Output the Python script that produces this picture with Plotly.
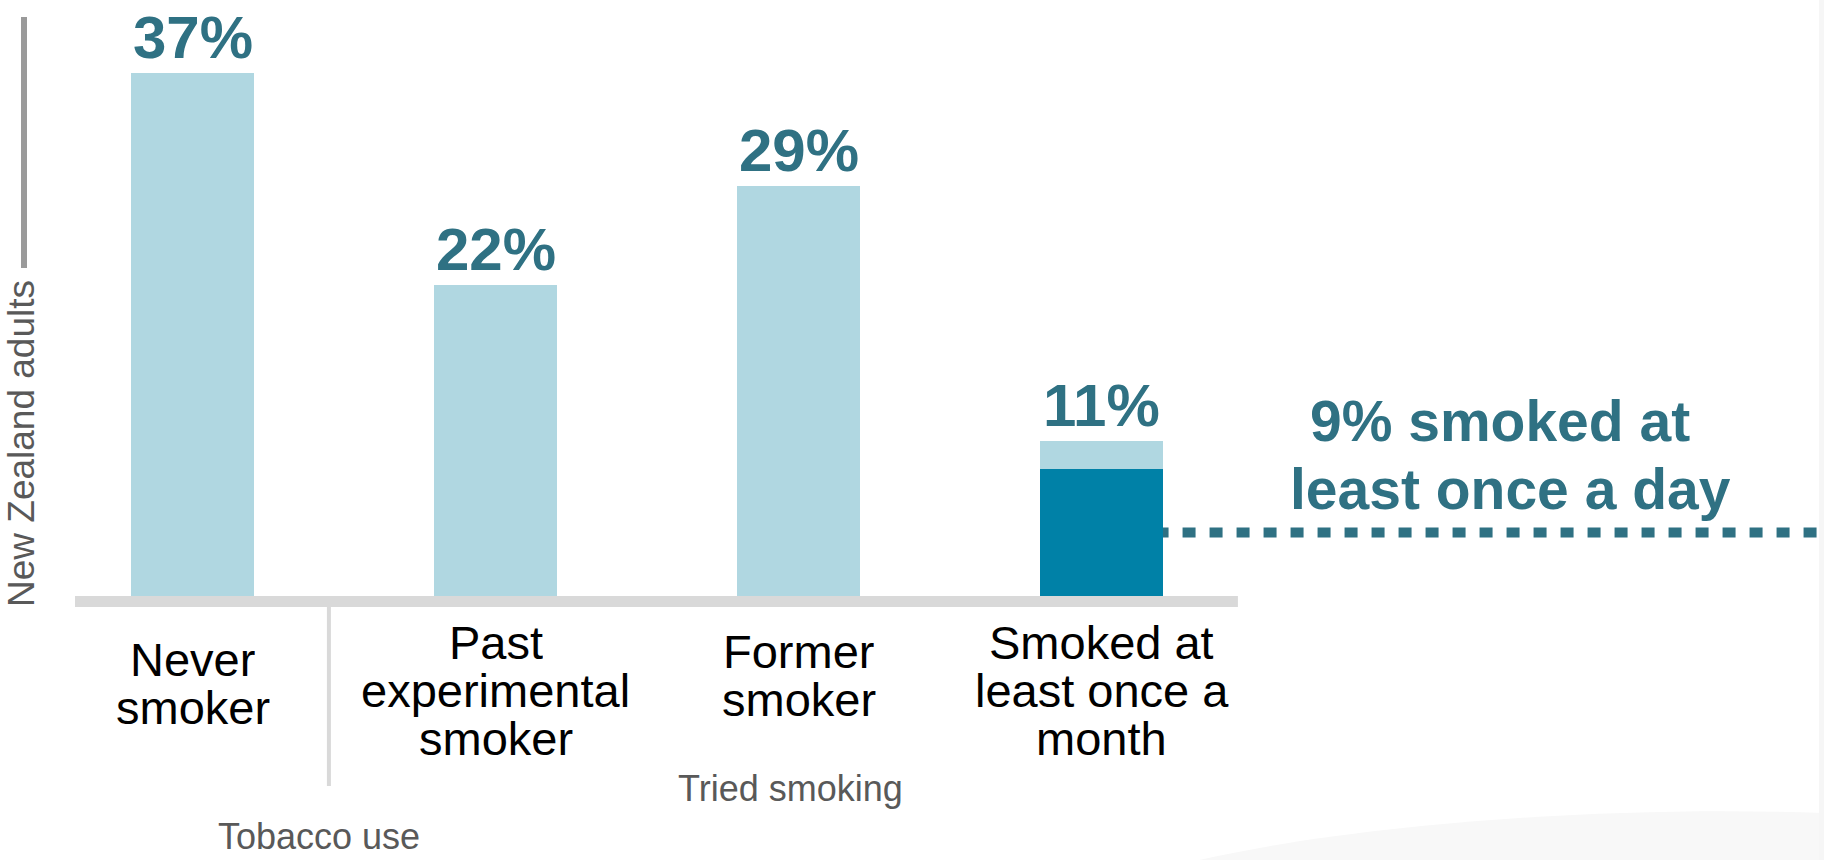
import plotly.graph_objects as go

# Share of New Zealand adults by tobacco use
label_lines = [
    ["Never", "smoker"],
    ["Past", "experimental", "smoker"],
    ["Former", "smoker"],
    ["Smoked at", "least once a", "month"],
]
categories = [" ".join(lines) for lines in label_lines]
total_pct = [37, 22, 29, 11]
daily_pct = [None, None, None, 9]
daily_note_lines = ["9% smoked at", "least once a day"]

W, H = 1824, 860
M_L, M_R, M_T, M_B = 75, 0, 0, 264
PLOT_W = W - M_L - M_R
PLOT_H = H - M_T - M_B

LIGHT = "#b0d7e1"
DARK = "#0081a7"
TEAL = "#2f7183"
GREY_TXT = "#595959"
FONT = "Liberation Sans, Arial, sans-serif"

BAR_W = 0.406
X_RANGE = [-0.388, -0.388 + PLOT_W / 303.0]
Y_RANGE = [0, 42.16]


def paper_x(px):
    return (px - M_L) / PLOT_W


def paper_y(px):
    return (M_T + PLOT_H - px) / PLOT_H


def bottom_for_baseline(baseline_px, size):
    # annotation box bottom sits below the baseline by the font descent + pad
    return paper_y(baseline_px + 0.212 * size + 1)


fig = go.Figure()
fig.add_trace(go.Bar(x=categories, y=total_pct, width=BAR_W,
                     marker=dict(color=LIGHT, line=dict(width=0)),
                     hoverinfo="x+y", showlegend=False))
fig.add_trace(go.Bar(x=categories, y=daily_pct, width=BAR_W,
                     marker=dict(color=DARK, line=dict(width=0)),
                     hoverinfo="x+y", showlegend=False))

annotations = []

# value labels above the bars
for cat, v in zip(categories, total_pct):
    annotations.append(dict(x=cat, y=v, xref="x", yref="y", yanchor="bottom",
                            xanchor="center", showarrow=False, yshift=0,
                            text=f"<b>{v}%</b>",
                            font=dict(family=FONT, size=60, color=TEAL)))

# category labels, one line at a time (tight leading)
first_baselines = [677, 660, 669, 660]
LINE_GAP = 48
CAT_SIZE = 47
for cat, lines, b0 in zip(categories, label_lines, first_baselines):
    for i, line in enumerate(lines):
        annotations.append(dict(x=cat, xref="x", yref="paper",
                                y=bottom_for_baseline(b0 + i * LINE_GAP, CAT_SIZE),
                                yanchor="bottom", xanchor="center",
                                height=LINE_GAP - 1, valign="bottom",
                                showarrow=False, text=line,
                                font=dict(family=FONT, size=CAT_SIZE, color="#000000")))

# group labels
annotations.append(dict(x=paper_x(790), xref="paper", yref="paper",
                        y=bottom_for_baseline(802, 36), yanchor="bottom",
                        xanchor="center", showarrow=False, text="Tried smoking",
                        font=dict(family=FONT, size=36, color=GREY_TXT)))
annotations.append(dict(x=paper_x(319), xref="paper", yref="paper",
                        y=bottom_for_baseline(850, 36), yanchor="bottom",
                        xanchor="center", showarrow=False, text="Tobacco use",
                        font=dict(family=FONT, size=36, color=GREY_TXT)))

# vertical axis title
annotations.append(dict(x=paper_x(22), y=paper_y(444), xref="paper", yref="paper",
                        xanchor="center", yanchor="middle", textangle=-90,
                        showarrow=False, text="New Zealand adults",
                        font=dict(family=FONT, size=37, color=GREY_TXT)))

# callout for daily smokers
NOTE_SIZE = 57
note_baselines = [442, 510]
note_centers = [1500, 1510]
for line, b, cx in zip(daily_note_lines, note_baselines, note_centers):
    annotations.append(dict(x=paper_x(cx), xref="paper", yref="paper",
                            y=bottom_for_baseline(b, NOTE_SIZE),
                            yanchor="bottom", xanchor="center",
                            height=62, valign="bottom", showarrow=False,
                            text=f"<b>{line}</b>",
                            font=dict(family=FONT, size=NOTE_SIZE, color=TEAL)))

shapes = [
    # faint backdrop curve in the lower-right corner
    dict(type="path", xref="paper", yref="paper", layer="below",
         path=(f"M {paper_x(1195)},{paper_y(861)} "
               f"C {paper_x(1350)},{paper_y(825)} {paper_x(1600)},{paper_y(805)} "
               f"{paper_x(1825)},{paper_y(813)} "
               f"L {paper_x(1825)},{paper_y(861)} Z"),
         fillcolor="#f8f8f8", line=dict(width=0)),
    dict(type="rect", xref="paper", yref="paper", layer="below",
         x0=paper_x(1819), x1=paper_x(1825), y0=paper_y(0), y1=paper_y(861),
         fillcolor="#f6f6f6", line=dict(width=0)),
    # baseline band
    dict(type="rect", xref="x", yref="paper", layer="above",
         x0=X_RANGE[0], x1=3.45, y0=paper_y(596), y1=paper_y(607),
         fillcolor="#d9d9d9", line=dict(width=0)),
    # divider between never and tried smoking
    dict(type="line", xref="x", yref="paper", x0=0.45, x1=0.45,
         y0=paper_y(607), y1=paper_y(786),
         line=dict(color="#d9d9d9", width=4)),
    # vertical rule for the axis title
    dict(type="line", xref="paper", yref="paper",
         x0=paper_x(24), x1=paper_x(24), y0=paper_y(17), y1=paper_y(268),
         line=dict(color="#9a9a9a", width=6)),
    # dotted leader from the daily segment to the callout
    dict(type="line", xref="x", yref="y", layer="below",
         x0=3, x1=X_RANGE[1],
         y0=daily_pct[3] / 2, y1=daily_pct[3] / 2,
         line=dict(color=TEAL, width=10, dash="13px,14px")),
]

fig.update_layout(
    width=W, height=H,
    margin=dict(l=M_L, r=M_R, t=M_T, b=M_B, pad=0),
    paper_bgcolor="white", plot_bgcolor="rgba(0,0,0,0)",
    barmode="overlay", bargap=0,
    showlegend=False,
    xaxis=dict(range=X_RANGE, showgrid=False, zeroline=False, showline=False,
               showticklabels=False, ticks="", fixedrange=True),
    yaxis=dict(range=Y_RANGE, visible=False, fixedrange=True),
    annotations=annotations,
    shapes=shapes,
    font=dict(family=FONT),
)

fig.write_html("out.html", config={"displayModeBar": False})
